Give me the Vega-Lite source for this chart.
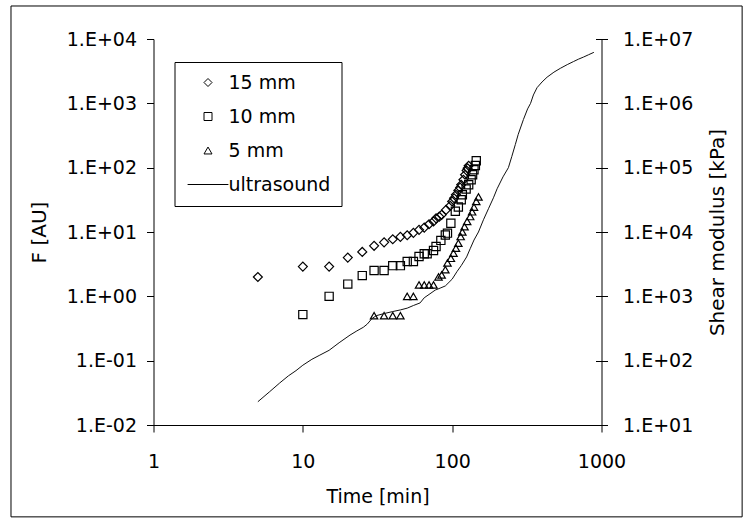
{
  "$schema": "https://vega.github.io/schema/vega-lite/v6.json",
  "width": 448,
  "height": 386,
  "autosize": {"type": "none"},
  "padding": {"left": 153.5, "top": 39, "right": 145.5, "bottom": 95},
  "background": "white",
  "config": {
    "view": {"stroke": null},
    "font": "DejaVu Sans",
    "axis": {
      "domainColor": "black",
      "tickColor": "black",
      "labelColor": "black",
      "titleColor": "black",
      "labelFont": "DejaVu Sans",
      "titleFont": "DejaVu Sans",
      "labelFontSize": 19,
      "titleFontSize": 19,
      "titleFontWeight": "normal",
      "grid": false,
      "domainWidth": 1,
      "tickWidth": 1
    }
  },
  "datasets": {
    "markers": [
      {"series": "15 mm", "t": 5, "F": 2.0},
      {"series": "15 mm", "t": 10, "F": 2.9},
      {"series": "15 mm", "t": 15, "F": 2.9},
      {"series": "15 mm", "t": 20, "F": 4.0},
      {"series": "15 mm", "t": 25, "F": 4.9},
      {"series": "15 mm", "t": 30, "F": 6.1},
      {"series": "15 mm", "t": 35, "F": 6.9},
      {"series": "15 mm", "t": 40, "F": 7.7},
      {"series": "15 mm", "t": 45, "F": 8.4},
      {"series": "15 mm", "t": 50, "F": 8.9},
      {"series": "15 mm", "t": 55, "F": 9.7},
      {"series": "15 mm", "t": 60, "F": 10.8},
      {"series": "15 mm", "t": 65, "F": 11.7},
      {"series": "15 mm", "t": 70, "F": 13.2},
      {"series": "15 mm", "t": 75, "F": 14.6},
      {"series": "15 mm", "t": 78, "F": 16.3},
      {"series": "15 mm", "t": 82, "F": 17.3},
      {"series": "15 mm", "t": 85, "F": 18.5},
      {"series": "15 mm", "t": 91, "F": 22.1},
      {"series": "15 mm", "t": 97, "F": 25.5},
      {"series": "15 mm", "t": 100, "F": 29.8},
      {"series": "15 mm", "t": 103, "F": 33.5},
      {"series": "15 mm", "t": 106, "F": 37.9},
      {"series": "15 mm", "t": 110, "F": 44.2},
      {"series": "15 mm", "t": 113, "F": 49},
      {"series": "15 mm", "t": 115, "F": 54.2},
      {"series": "15 mm", "t": 119, "F": 64.9},
      {"series": "15 mm", "t": 122, "F": 77.6},
      {"series": "15 mm", "t": 125, "F": 90.4},
      {"series": "15 mm", "t": 127, "F": 98},
      {"series": "15 mm", "t": 129, "F": 107},
      {"series": "10 mm", "t": 10, "F": 0.52},
      {"series": "10 mm", "t": 15, "F": 1.0},
      {"series": "10 mm", "t": 20, "F": 1.55},
      {"series": "10 mm", "t": 25, "F": 2.1},
      {"series": "10 mm", "t": 30, "F": 2.52},
      {"series": "10 mm", "t": 35, "F": 2.52},
      {"series": "10 mm", "t": 40, "F": 3.0},
      {"series": "10 mm", "t": 45, "F": 3.0},
      {"series": "10 mm", "t": 50, "F": 3.48},
      {"series": "10 mm", "t": 55, "F": 3.48},
      {"series": "10 mm", "t": 60, "F": 4.15},
      {"series": "10 mm", "t": 65, "F": 4.6},
      {"series": "10 mm", "t": 68, "F": 4.6},
      {"series": "10 mm", "t": 75, "F": 5.15},
      {"series": "10 mm", "t": 78, "F": 5.95},
      {"series": "10 mm", "t": 84, "F": 7.4},
      {"series": "10 mm", "t": 90, "F": 9.0},
      {"series": "10 mm", "t": 93, "F": 9.6},
      {"series": "10 mm", "t": 98, "F": 13.7},
      {"series": "10 mm", "t": 105, "F": 21},
      {"series": "10 mm", "t": 110, "F": 24.4},
      {"series": "10 mm", "t": 115, "F": 31.7},
      {"series": "10 mm", "t": 117, "F": 37.9},
      {"series": "10 mm", "t": 124, "F": 46.5},
      {"series": "10 mm", "t": 129, "F": 54.2},
      {"series": "10 mm", "t": 134, "F": 64.9},
      {"series": "10 mm", "t": 137, "F": 77.6},
      {"series": "10 mm", "t": 140, "F": 92.7},
      {"series": "10 mm", "t": 143, "F": 108},
      {"series": "10 mm", "t": 145, "F": 128},
      {"series": "\u00a05 mm", "t": 30, "F": 0.5},
      {"series": "\u00a05 mm", "t": 35, "F": 0.5},
      {"series": "\u00a05 mm", "t": 40, "F": 0.5},
      {"series": "\u00a05 mm", "t": 45, "F": 0.5},
      {"series": "\u00a05 mm", "t": 50, "F": 1.0},
      {"series": "\u00a05 mm", "t": 55, "F": 1.0},
      {"series": "\u00a05 mm", "t": 60, "F": 1.5},
      {"series": "\u00a05 mm", "t": 65, "F": 1.5},
      {"series": "\u00a05 mm", "t": 70, "F": 1.5},
      {"series": "\u00a05 mm", "t": 75, "F": 1.5},
      {"series": "\u00a05 mm", "t": 81, "F": 2.0},
      {"series": "\u00a05 mm", "t": 85, "F": 2.15},
      {"series": "\u00a05 mm", "t": 90, "F": 2.6},
      {"series": "\u00a05 mm", "t": 93, "F": 3.3},
      {"series": "\u00a05 mm", "t": 98, "F": 3.9},
      {"series": "\u00a05 mm", "t": 102, "F": 4.7},
      {"series": "\u00a05 mm", "t": 106, "F": 5.6},
      {"series": "\u00a05 mm", "t": 110, "F": 6.7},
      {"series": "\u00a05 mm", "t": 114, "F": 8.5},
      {"series": "\u00a05 mm", "t": 117, "F": 10},
      {"series": "\u00a05 mm", "t": 121, "F": 12.1},
      {"series": "\u00a05 mm", "t": 126, "F": 14.6},
      {"series": "\u00a05 mm", "t": 132, "F": 17.4},
      {"series": "\u00a05 mm", "t": 136, "F": 20.6},
      {"series": "\u00a05 mm", "t": 140, "F": 24.4},
      {"series": "\u00a05 mm", "t": 145, "F": 29.8},
      {"series": "\u00a05 mm", "t": 150, "F": 35}
    ],
    "ultra": [
      {"t": 5, "G": 23}, {"t": 6, "G": 33}, {"t": 7, "G": 45}, {"t": 8, "G": 58},
      {"t": 9, "G": 70}, {"t": 10, "G": 85}, {"t": 11.5, "G": 105}, {"t": 13, "G": 122},
      {"t": 15, "G": 145}, {"t": 17.5, "G": 190}, {"t": 20.7, "G": 250}, {"t": 23, "G": 290},
      {"t": 25.4, "G": 330}, {"t": 27, "G": 370}, {"t": 29, "G": 450}, {"t": 31, "G": 500},
      {"t": 35, "G": 540}, {"t": 40, "G": 580}, {"t": 45, "G": 615}, {"t": 50, "G": 655},
      {"t": 55, "G": 720}, {"t": 61, "G": 790}, {"t": 65, "G": 950}, {"t": 70, "G": 1070},
      {"t": 77, "G": 1250}, {"t": 83, "G": 1340}, {"t": 90, "G": 1450}, {"t": 100, "G": 1850},
      {"t": 108, "G": 2450}, {"t": 115, "G": 3000}, {"t": 125, "G": 4100}, {"t": 132, "G": 5500},
      {"t": 140, "G": 7500}, {"t": 150, "G": 10000}, {"t": 162, "G": 15500}, {"t": 175, "G": 23000},
      {"t": 189, "G": 34000}, {"t": 200, "G": 47000}, {"t": 219, "G": 72000}, {"t": 238, "G": 100000},
      {"t": 251, "G": 150000}, {"t": 265, "G": 230000}, {"t": 277, "G": 330000}, {"t": 300, "G": 560000},
      {"t": 320, "G": 820000}, {"t": 335, "G": 1000000}, {"t": 350, "G": 1350000}, {"t": 370, "G": 1750000},
      {"t": 400, "G": 2150000}, {"t": 432, "G": 2550000}, {"t": 480, "G": 3050000}, {"t": 530, "G": 3500000},
      {"t": 590, "G": 4000000}, {"t": 648, "G": 4450000}, {"t": 700, "G": 4850000}, {"t": 759, "G": 5250000},
      {"t": 820, "G": 5700000}, {"t": 889, "G": 6200000}
    ],
    "frame": [{"part": "chart border"}]
  },
  "layer": [
    {
      "data": {"name": "frame"},
      "mark": {"type": "rect", "filled": false, "stroke": "black", "strokeWidth": 1},
      "encoding": {
        "x": {"datum": 0.1111, "type": "quantitative", "scale": {"type": "log", "domain": [1, 1000]}, "title": "Time [min]"},
        "x2": {"datum": 8745},
        "y": {"datum": 1.0855, "type": "quantitative", "scale": {"domain": [0, 1]}, "axis": null},
        "y2": {"datum": -0.238}
      }
    },
    {
      "data": {"name": "markers"},
      "mark": {"type": "point", "filled": false, "stroke": "black", "strokeWidth": 1.2, "opacity": 1},
      "encoding": {
        "x": {
          "field": "t", "type": "quantitative",
          "scale": {"type": "log", "domain": [1, 1000]},
          "title": "Time [min]",
          "axis": {
            "values": [1, 10, 100, 1000], "format": "d", "labelFlush": false,
            "tickSize": 7, "labelPadding": 35, "labelBaseline": "alphabetic",
            "titleY": 77, "titleBaseline": "alphabetic"
          }
        },
        "y": {
          "field": "F", "type": "quantitative",
          "scale": {"type": "log", "domain": [0.01, 10000]},
          "title": "F [AU]",
          "axis": {
            "values": [0.01, 0.1, 1, 10, 100, 1000, 10000],
            "labelExpr": "'1.E' + (round(log(datum.value)/LN10) < 0 ? '-' : '+') + (abs(round(log(datum.value)/LN10)) < 10 ? '0' : '') + abs(round(log(datum.value)/LN10))",
            "tickSize": 7, "labelPadding": 10, "labelOverlap": false,
            "titleFontSize": 20, "titleX": -108.5, "titleY": 193, "titleBaseline": "alphabetic", "titleAngle": 270
          }
        },
        "shape": {
          "field": "series", "type": "nominal",
          "scale": {
            "domain": ["15 mm", "10 mm", "\u00a05 mm", "ultrasound"],
            "range": ["diamond", "square", "triangle-up", "M-5.1,0L5.1,0"]
          },
          "legend": {
            "orient": "none", "legendX": 21, "legendY": 23, "title": null,
            "strokeColor": "black", "fillColor": "white", "padding": 11,
            "labelFont": "DejaVu Sans", "labelFontSize": 19, "labelColor": "black",
            "symbolSize": 64, "symbolStrokeColor": "black", "symbolFillColor": "transparent",
            "symbolStrokeWidth": 1, "rowPadding": 14, "symbolOffset": 13, "labelOffset": 11
          }
        },
        "size": {
          "field": "series", "type": "ordinal",
          "scale": {"domain": ["15 mm", "10 mm", "\u00a05 mm"], "range": [80, 55, 90]},
          "legend": null
        }
      }
    },
    {
      "data": {"name": "ultra"},
      "mark": {"type": "line", "stroke": "#111111", "strokeWidth": 1},
      "encoding": {
        "x": {"field": "t", "type": "quantitative", "scale": {"type": "log", "domain": [1, 1000]}, "title": "Time [min]"},
        "y": {
          "field": "G", "type": "quantitative",
          "scale": {"type": "log", "domain": [10, 10000000]},
          "title": "Shear modulus [kPa]",
          "axis": {
            "orient": "right",
            "values": [10, 100, 1000, 10000, 100000, 1000000, 10000000],
            "labelExpr": "'1.E' + (round(log(datum.value)/LN10) < 0 ? '-' : '+') + (abs(round(log(datum.value)/LN10)) < 10 ? '0' : '') + abs(round(log(datum.value)/LN10))",
            "tickSize": 6, "labelPadding": 15, "labelOverlap": false,
            "grid": true, "gridDash": [6, 1000], "gridColor": "black", "gridWidth": 1, "gridOpacity": 1,
            "titleFontSize": 20, "titleX": 122, "titleY": 193, "titleBaseline": "alphabetic", "titleAngle": 270
          }
        }
      }
    }
  ],
  "resolve": {"scale": {"y": "independent"}}
}
